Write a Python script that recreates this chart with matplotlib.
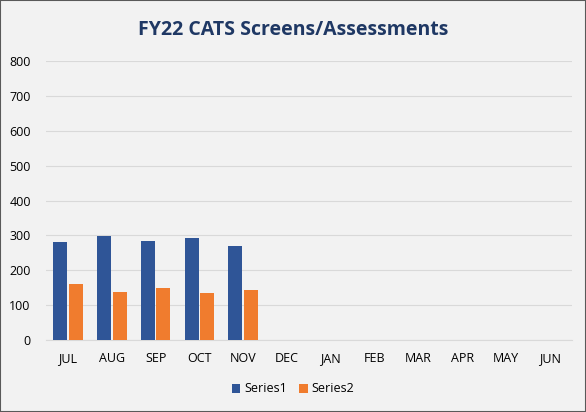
import matplotlib.pyplot as plt
import numpy as np

months = ['JUL', 'AUG', 'SEP', 'OCT', 'NOV', 'DEC', 'JAN', 'FEB', 'MAR', 'APR', 'MAY', 'JUN']
series1 = [282, 298, 284, 292, 269]
series2 = [160, 137, 149, 135, 143]

plt.rcParams['font.family'] = ['Open Sans', 'DejaVu Sans']

fig = plt.figure(figsize=(5.86, 4.12), dpi=100, facecolor='#F2F2F2')
ax = fig.add_axes([46 / 586, 1 - 340 / 412, 526 / 586, 279 / 412])
ax.set_facecolor('#F2F2F2')

x = np.arange(len(months))
w = 0.32
gap = 0.035
xs1 = x[:len(series1)] - w / 2 - gap / 2
xs2 = x[:len(series2)] + w / 2 + gap / 2
ax.bar(xs1, series1, w, color='#2F5597', label='Series1', zorder=3)
ax.bar(xs2, series2, w, color='#F07C2E', label='Series2', zorder=3)

ax.set_xlim(-0.5, len(months) - 0.5)
ax.set_ylim(0, 800)
ax.set_yticks(range(0, 801, 100))
ax.set_xticks(x)
ax.set_xticklabels(months)
ax.tick_params(axis='both', length=0, labelsize=9, colors='#000000')
ax.tick_params(axis='x', pad=9)
ax.tick_params(axis='y', pad=11)
ax.grid(axis='y', color='#D9D9D9', linewidth=0.8, zorder=0)
for s in ['top', 'right', 'left']:
    ax.spines[s].set_visible(False)
ax.spines['bottom'].set_color('#D9D9D9')

fig.text(0.5, 1 - 30 / 412, 'FY22 CATS Screens/Assessments', ha='center', va='center',
         fontsize=14, fontweight='bold', color='#1F3864')

fig.legend(loc='center', bbox_to_anchor=(0.5, 1 - 389 / 412), ncol=2, frameon=False,
           fontsize=9, handlelength=0.7, handleheight=0.7, handletextpad=0.3, columnspacing=1.0)

border = plt.Rectangle((0, 0), 1, 1, transform=fig.transFigure, fill=False,
                       edgecolor='#595959', linewidth=1.5)
fig.patches.append(border)

fig.savefig('out.png', dpi=100, facecolor=fig.get_facecolor())
